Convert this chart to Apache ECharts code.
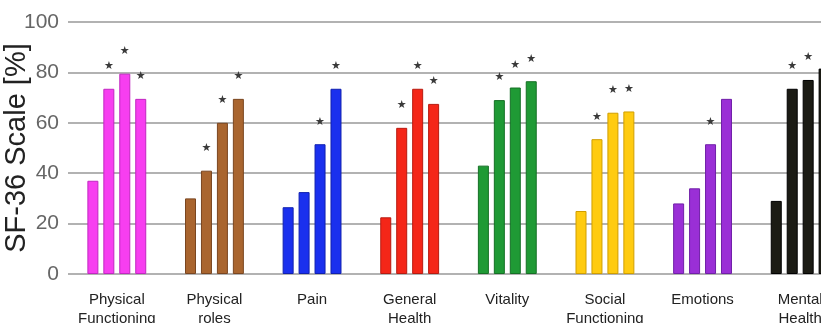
<!DOCTYPE html>
<html>
<head>
<meta charset="utf-8">
<script src="https://cdn.jsdelivr.net/npm/echarts@6/dist/echarts.min.js"></script>
<style>html,body{margin:0;padding:0;background:#fff;}#c{width:821px;height:323px;}</style>
</head>
<body>
<div id="c"></div>
<script>
const categories = ['Physical\nFunctioning', 'Physical\nroles', 'Pain', 'General\nHealth', 'Vitality', 'Social\nFunctioning', 'Emotions', 'Mental\nHealth'];
const yTicks = [0, 20, 40, 60, 80, 100];
const s1 = [37, 30, 26.5, 22.5, 43, 25, 28, 29];
const s2 = [73.5, 41, 32.5, 58, 69, 53.5, 34, 73.5];
const s3 = [79.5, 60, 51.5, 73.5, 74, 64, 51.5, 77];
const s4 = [69.5, 69.5, 73.5, 67.5, 76.5, 64.5, 69.5, 81.5];
const star1 = [0, 0, 0, 0, 0, 0, 0, 0];
const star2 = [1, 1, 0, 1, 1, 1, 0, 1];
const star3 = [1, 1, 1, 1, 1, 1, 1, 1];
const star4 = [1, 1, 1, 1, 1, 1, 0, 0];
const fills = ['#f73ef0', '#a9652f', '#1a30ee', '#f42618', '#1f9a35', '#ffcb10', '#9a2fd6', '#1b1b14'];
const edges = ['#c028c0', '#7a4620', '#1020b0', '#b81a10', '#157025', '#d09e00', '#7020a8', '#000000'];

const chart = echarts.init(document.getElementById('c'));
function mk(values, stars) {
  return {
    type: 'bar',
    data: values.map((v, i) => ({
      value: v,
      itemStyle: { color: fills[i], borderColor: edges[i], borderWidth: 1 }
    })),
    barWidth: 11,
    barGap: '45%',
    label: {
      show: true,
      position: 'top',
      distance: 17,
      formatter: p => stars[p.dataIndex] ? '★' : '',
      fontSize: 11,
      fontFamily: 'DejaVu Sans',
      color: '#3a3a3a'
    }
  };
}
chart.setOption({
  animation: false,
  grid: { left: 68, right: -28, top: 22, bottom: 49, outerBoundsMode: 'none', containLabel: false },
  xAxis: {
    type: 'category',
    data: categories,
    axisLine: { show: false },
    axisTick: { show: false },
    axisLabel: { interval: 0, fontSize: 15, lineHeight: 19, color: '#222', margin: 16, fontFamily: 'Liberation Sans' }
  },
  yAxis: {
    type: 'value',
    min: yTicks[0],
    max: yTicks[yTicks.length - 1],
    interval: 20,
    name: 'SF-36 Scale [%]',
    nameLocation: 'middle',
    nameRotate: 90,
    nameGap: 37,
    nameMoveOverlap: false,
    nameTextStyle: { fontSize: 29, color: '#222', fontFamily: 'Liberation Sans' },
    axisLine: { show: false },
    axisTick: { show: false },
    axisLabel: { fontSize: 21, color: '#666', margin: 9, fontFamily: '"Liberation Sans Narrow", "Liberation Sans", sans-serif' },
    splitLine: { lineStyle: { color: '#999', width: 1.5 } }
  },
  series: [mk(s1, star1), mk(s2, star2), mk(s3, star3), mk(s4, star4)]
});
</script>
</body>
</html>
